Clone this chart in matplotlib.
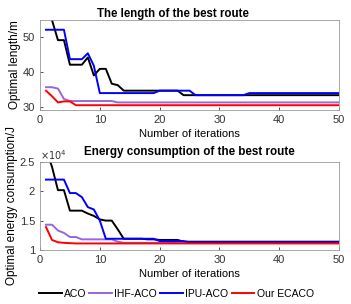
import numpy as np
import matplotlib.pyplot as plt

plt.rcParams['font.family'] = ['Liberation Sans', 'DejaVu Sans']

iters = np.arange(1, 51)

# route length (m)
len_aco = [60, 55, 49.2, 49.2, 42.1, 42.1, 42.1, 44.2, 39.0, 40.9,
           40.9, 36.6, 36.2, 34.6, 34.6, 34.6, 34.6, 34.6, 34.6, 34.6,
           34.6, 34.6, 34.6, 33.3] + [33.3] * 26
len_ihf = [35.6, 35.6, 35.2, 32.2, 31.6, 31.6, 31.6, 31.6, 31.6, 31.6,
           31.6, 31.6, 31.2] + [31.2] * 37
len_ipu = [52.2, 52.2, 52.2, 52.2, 43.7, 43.7, 43.7, 45.4, 41.8, 33.9,
           33.9, 33.9, 33.9, 33.9, 33.9, 33.9, 33.9, 33.9, 33.9, 34.6,
           34.6, 34.6, 34.6, 34.6, 34.6] + [33.3] * 9 + [33.9] * 16
len_our = [34.6, 33.0, 31.2, 31.5, 31.5, 30.4] + [30.4] * 44

# energy consumption (x1e4 J)
en_aco = [2.7, 2.42, 2.02, 2.02, 1.67, 1.67, 1.67, 1.62, 1.58, 1.52,
          1.50, 1.50, 1.35, 1.19, 1.19, 1.19, 1.19, 1.18, 1.18, 1.17,
          1.17, 1.17, 1.17, 1.14] + [1.14] * 26
en_ihf = [1.43, 1.43, 1.33, 1.29, 1.22, 1.22, 1.18, 1.18, 1.18, 1.18,
          1.18, 1.18, 1.14] + [1.12] * 37
en_ipu = [2.2, 2.2, 2.2, 2.2, 1.97, 1.97, 1.90, 1.73, 1.69, 1.50,
          1.19, 1.19, 1.19, 1.19, 1.19, 1.19, 1.19, 1.19, 1.19, 1.15,
          1.15, 1.15, 1.15, 1.15] + [1.13] * 26
en_our = [1.39, 1.17, 1.13, 1.12, 1.115] + [1.11] * 45

labels = ['ACO', 'IHF-ACO', 'IPU-ACO', 'Our ECACO']
colors = ['black', '#9966dd', '#0000ff', '#ff0000']

fig = plt.figure(figsize=(3.51, 3.04), dpi=100)
ax1 = fig.add_axes([0.114, 0.638, 0.852, 0.296])
ax2 = fig.add_axes([0.114, 0.178, 0.852, 0.289])

for series, lab, c in zip([len_aco, len_ihf, len_ipu, len_our], labels, colors):
    ax1.plot(iters, series, color=c, linewidth=1.4, label=lab)
for series, lab, c in zip([en_aco, en_ihf, en_ipu, en_our], labels, colors):
    ax2.plot(iters, series, color=c, linewidth=1.4)

ax1.set_xlim(0, 50)
ax1.set_ylim(29, 55)
ax1.set_yticks([30, 40, 50])
ax1.set_title('The length of the best route', fontsize=8.3, fontweight='bold',
              pad=2, x=0.445)
ax1.set_ylabel('Optimal length/m', fontsize=8.5, labelpad=1)

ax2.set_xlim(0, 50)
ax2.set_ylim(1, 2.5)
ax2.set_yticks([1, 1.5, 2, 2.5])
ax2.set_yticklabels(['1', '1.5', '2', '2.5'])
ax2.set_title('Energy consumption of the best route', fontsize=8.4, fontweight='bold', pad=5)
ax2.set_ylabel('Optimal energy consumption/J', fontsize=8.5, labelpad=1)
ax2.text(0.0, 1.0, r'$\times10^4$', transform=ax2.transAxes, fontsize=7,
         va='bottom', ha='left', color='#333333')

for ax in (ax1, ax2):
    ax.set_xticks([0, 10, 20, 30, 40, 50])
    ax.set_xlabel('Number of iterations', fontsize=8, labelpad=3)
    ax.tick_params(direction='in', labelsize=8, length=2, width=0.6, colors='#333333', pad=3.5)
    for s in ax.spines.values():
        s.set_color('#999999')
        s.set_linewidth(0.6)

fig.legend(*ax1.get_legend_handles_labels(), loc='center', bbox_to_anchor=(0.502, 0.033),
           ncol=4, frameon=False, fontsize=7.5, handlelength=2.2, columnspacing=0.3,
           handletextpad=0.2)

fig.savefig('out.png', dpi=100)
